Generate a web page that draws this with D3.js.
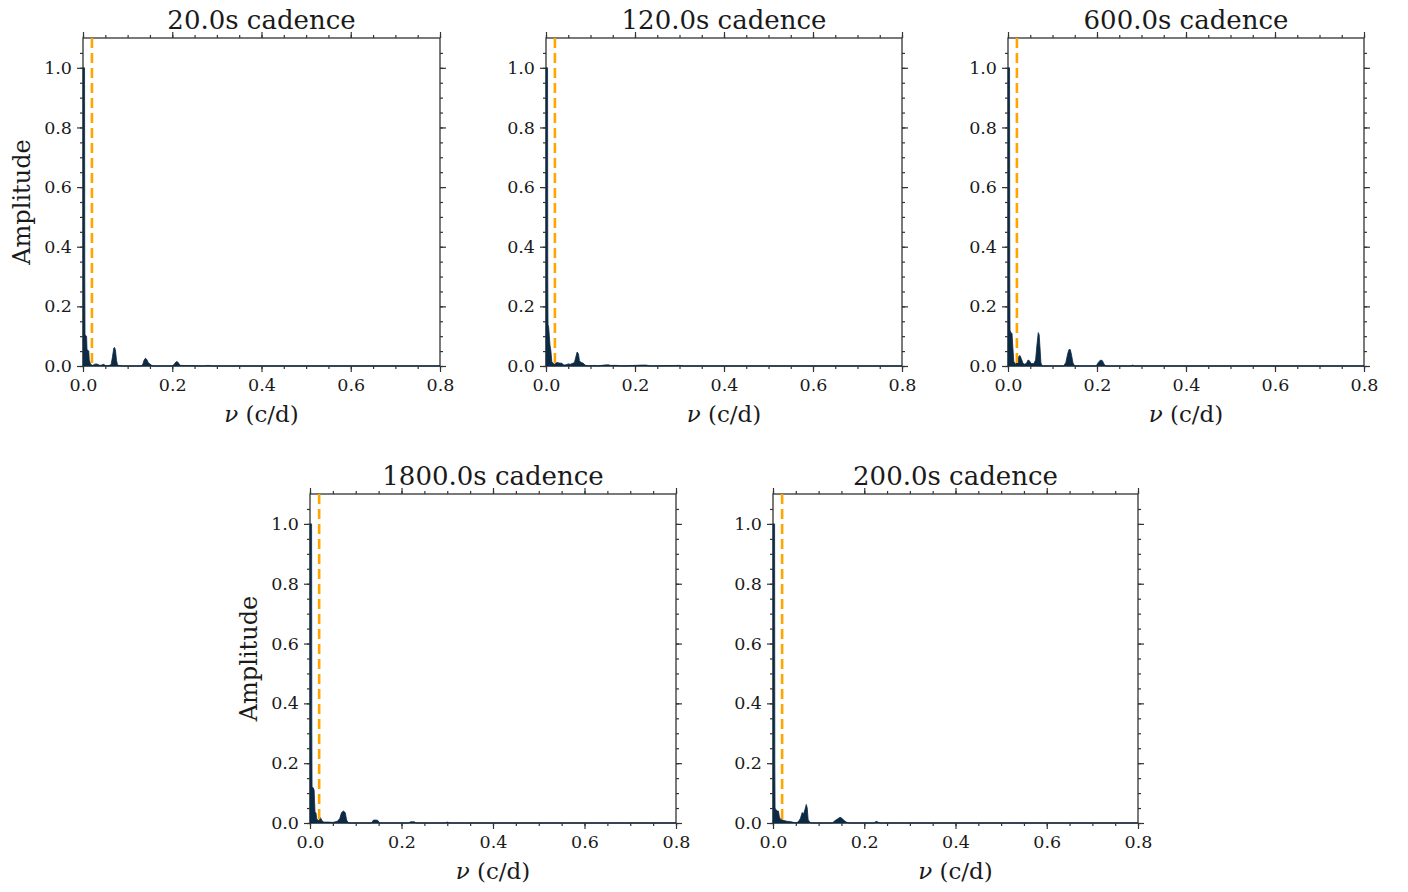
<!DOCTYPE html>
<html>
<head>
<meta charset="utf-8">
<script src="https://d3js.org/d3.v7.min.js"></script>
<style>
  body { margin: 0; background: #fff; }
  text { font-family: "DejaVu Serif", serif; fill: #1a1a1a; }
</style>
</head>
<body>
<div id="viz"></div>
<script>

// spectra: [frequency (c/d), amplitude]
var spec20 = [[0,1.0],[0.0035,1.0],[0.004,0.3],[0.0045,0.105],[0.008,0.1],[0.009,0.055],[0.013,0.05],
  [0.014,0.02],[0.017,0.006],[0.022,0.002],[0.026,0.006],[0.03,0.007],[0.034,0.005],[0.038,0.002],[0.042,0.003],
  [0.045,0.006],[0.048,0.004],[0.051,0.001],[0.058,0.001],[0.063,0.005],[0.066,0.03],[0.069,0.06],[0.071,0.062],
  [0.073,0.05],[0.075,0.02],[0.077,0.006],[0.08,0.002],[0.09,0],[0.13,0],[0.134,0.006],[0.137,0.02],[0.14,0.026],
  [0.143,0.022],[0.146,0.012],[0.149,0.008],[0.153,0.003],[0.158,0],[0.2,0],[0.204,0.005],[0.208,0.013],[0.211,0.015],
  [0.214,0.01],[0.218,0.002],[0.27,0],[0.28,0.002],[0.29,0],[0.8,0]];

var spec120 = [[0,1.0],[0.0035,1.0],[0.004,0.3],[0.0045,0.14],[0.006,0.13],[0.009,0.07],[0.011,0.05],[0.013,0.015],
  [0.016,0.008],[0.02,0.006],[0.024,0.012],[0.03,0.01],[0.036,0.009],[0.04,0.003],[0.045,0.004],[0.05,0.007],
  [0.055,0.006],[0.06,0.009],[0.064,0.012],[0.067,0.03],[0.07,0.047],[0.073,0.04],[0.075,0.018],[0.079,0.012],
  [0.083,0.01],[0.088,0.003],[0.095,0],[0.11,0.002],[0.115,0],[0.13,0.003],[0.14,0.004],[0.145,0.002],[0.16,0.002],
  [0.17,0],[0.215,0.003],[0.225,0.003],[0.235,0],[0.3,0.002],[0.31,0],[0.8,0]];

var spec600 = [[0,1.0],[0.0035,1.0],[0.004,0.3],[0.0045,0.12],[0.007,0.11],[0.009,0.11],[0.011,0.06],[0.013,0.015],
  [0.017,0.005],[0.021,0.02],[0.024,0.032],[0.027,0.035],[0.031,0.02],[0.034,0.008],[0.038,0.006],[0.042,0.01],
  [0.045,0.02],[0.048,0.018],[0.052,0.008],[0.058,0.008],[0.062,0.02],[0.065,0.07],[0.068,0.112],[0.07,0.105],
  [0.072,0.06],[0.074,0.01],[0.077,0],[0.125,0],[0.13,0.012],[0.134,0.04],[0.137,0.055],[0.14,0.055],[0.143,0.035],
  [0.146,0.01],[0.15,0],[0.198,0],[0.203,0.012],[0.208,0.02],[0.212,0.018],[0.216,0.006],[0.22,0],[0.275,0],
  [0.28,0.003],[0.285,0],[0.8,0]];

var spec1800 = [[0,1.0],[0.0035,1.0],[0.004,0.3],[0.0045,0.12],[0.007,0.118],[0.009,0.11],[0.011,0.035],[0.013,0.034],
  [0.015,0.012],[0.02,0.008],[0.023,0.018],[0.026,0.008],[0.03,0.003],[0.04,0.003],[0.05,0.002],[0.06,0.006],
  [0.065,0.015],[0.069,0.035],[0.073,0.04],[0.077,0.035],[0.08,0.01],[0.084,0],[0.135,0],[0.138,0.009],[0.142,0.01],
  [0.148,0.009],[0.152,0],[0.215,0],[0.22,0.004],[0.228,0.004],[0.232,0],[0.295,0],[0.3,0.003],[0.305,0],[0.8,0]];

var spec200 = [[0,1.0],[0.0035,1.0],[0.004,0.2],[0.0045,0.05],[0.006,0.045],[0.01,0.04],[0.012,0.04],[0.014,0.02],
  [0.017,0.012],[0.021,0.01],[0.025,0.008],[0.03,0.006],[0.035,0.005],[0.04,0.004],[0.045,0.002],[0.05,0.001],
  [0.055,0.003],[0.06,0.015],[0.064,0.035],[0.067,0.03],[0.07,0.045],[0.073,0.062],[0.075,0.05],[0.077,0.012],
  [0.08,0.003],[0.085,0],[0.13,0],[0.136,0.008],[0.142,0.014],[0.147,0.019],[0.151,0.016],[0.156,0.008],
  [0.162,0.002],[0.168,0],[0.222,0],[0.226,0.006],[0.23,0.003],[0.234,0],[0.8,0]];

var titles = ["20.0s cadence", "120.0s cadence", "600.0s cadence", "1800.0s cadence", "200.0s cadence"];
var spectra = [spec20, spec120, spec600, spec1800, spec200];
var cutoff = 0.02;   // orange dashed line
var xMajor = [0, 0.2, 0.4, 0.6, 0.8];
var yMajor = [0, 0.2, 0.4, 0.6, 0.8, 1.0];

// plot boxes
var boxes = [
  {x: 83,  y: 38,  w: 357, h: 328, ylab: true},
  {x: 546, y: 38,  w: 356, h: 328, ylab: false},
  {x: 1008, y: 38, w: 356, h: 328, ylab: false},
  {x: 310, y: 494, w: 366, h: 329, ylab: true},
  {x: 773, y: 494, w: 365, h: 329, ylab: false}
];

var svg = d3.select("#viz").append("svg")
  .attr("width", 1408).attr("height", 892);

var xMinor = d3.range(0, 0.8001, 0.05);
var yMinor = d3.range(0, 1.1, 0.05);
var fmt = d3.format(".1f");

boxes.forEach(function(b, i) {
  var g = svg.append("g").attr("transform", "translate(" + b.x + "," + b.y + ")");
  var x = d3.scaleLinear().domain([0, 0.8]).range([0, b.w]);
  var y = d3.scaleLinear().domain([0, 1.1]).range([b.h, 0]);

  // frame first, spectrum drawn over it
  g.append("rect")
    .attr("width", b.w).attr("height", b.h)
    .attr("fill", "none").attr("stroke", "#333").attr("stroke-width", 1.3);

  // spectrum
  g.append("path")
    .datum(spectra[i])
    .attr("d", d3.area().x(function(d) { return x(d[0]); }).y0(y(0)).y1(function(d) { return y(d[1]); }))
    .attr("fill", "#0c2a43")
    .attr("stroke", "#0c2a43")
    .attr("stroke-width", 0.8);

  // cutoff line
  g.append("line")
    .attr("x1", x(cutoff)).attr("x2", x(cutoff))
    .attr("y1", 0).attr("y2", b.h)
    .attr("stroke", "orange").attr("stroke-width", 2.6)
    .attr("stroke-dasharray", "10,5");

  // axes, ticks out on all four sides
  function addAxis(axis, tr) {
    var a = g.append("g").attr("transform", tr).call(axis);
    a.select(".domain").remove();
    a.selectAll("line").attr("stroke", "#333").attr("stroke-width", 1.2);
    a.selectAll("text").style("font-size", "17.5px").attr("fill", "#1a1a1a");
  }
  addAxis(d3.axisBottom(x).tickValues(xMinor).tickSize(3).tickFormat(""), "translate(0," + b.h + ")");
  addAxis(d3.axisBottom(x).tickValues(xMajor).tickSize(6).tickPadding(7).tickFormat(fmt), "translate(0," + b.h + ")");
  addAxis(d3.axisTop(x).tickValues(xMinor).tickSize(3).tickFormat(""), "translate(0,0)");
  addAxis(d3.axisTop(x).tickValues(xMajor).tickSize(6).tickFormat(""), "translate(0,0)");
  addAxis(d3.axisLeft(y).tickValues(yMinor).tickSize(3).tickFormat(""), "translate(0,0)");
  addAxis(d3.axisLeft(y).tickValues(yMajor).tickSize(6).tickPadding(5).tickFormat(fmt), "translate(0,0)");
  addAxis(d3.axisRight(y).tickValues(yMinor).tickSize(3).tickFormat(""), "translate(" + b.w + ",0)");
  addAxis(d3.axisRight(y).tickValues(yMajor).tickSize(6).tickFormat(""), "translate(" + b.w + ",0)");

  // title
  g.append("text")
    .attr("x", b.w / 2).attr("y", -9)
    .attr("text-anchor", "middle")
    .style("font-size", "26px")
    .text(titles[i]);

  // x label
  var xl = g.append("text")
    .attr("x", b.w / 2).attr("y", b.h + 56)
    .attr("text-anchor", "middle")
    .style("font-size", "23px");
  xl.append("tspan").style("font-style", "italic").text("ν");
  xl.append("tspan").text(" (c/d)");

  if (b.ylab) {
    g.append("text")
      .attr("transform", "translate(-53," + (b.h / 2) + ") rotate(-90)")
      .attr("text-anchor", "middle")
      .style("font-size", "24px")
      .text("Amplitude");
  }
});

</script>
</body>
</html>
